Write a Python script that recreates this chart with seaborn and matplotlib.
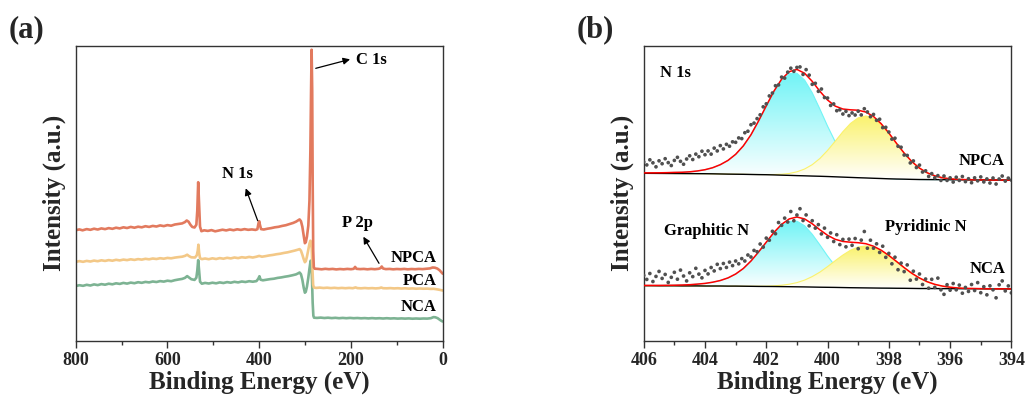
import numpy as np
import pandas as pd
import matplotlib
matplotlib.use("Agg")
import matplotlib.pyplot as plt
import matplotlib.colors as mcolors
import seaborn as sns

# ---------------- (a) survey spectra: (binding energy eV, intensity a.u.) ----------------
npca_survey = [
    (800, 110.5), (792, 111.3), (785, 110.4), (776, 111.6), (768, 110.9), (760, 112.0), (752, 111.2),
    (744, 112.3), (736, 111.6), (728, 112.6), (720, 111.9), (712, 113.0), (704, 112.3), (696, 113.4),
    (688, 112.7), (680, 113.8), (672, 113.0), (664, 114.0), (656, 113.4), (648, 114.5), (640, 113.8),
    (632, 114.8), (624, 114.2), (616, 115.3), (608, 114.6), (600, 115.6), (592, 115.0), (584, 116.2),
    (576, 116.8), (568, 117.3), (562, 118.6), (558, 120.2), (554, 119.0), (550, 116.0), (546, 113.8),
    (541, 113.2), (537, 116.0), (535, 130.0), (533, 158.5), (531, 135.0), (529, 114.0), (526, 109.5),
    (520, 110.4), (512, 109.8), (504, 110.6), (496, 109.4), (488, 110.2), (480, 111.0), (472, 110.3),
    (464, 111.2), (456, 110.5), (448, 111.4), (440, 110.8), (432, 111.6), (424, 110.9), (416, 111.3),
    (408, 110.8), (404, 111.5), (401.5, 117.5), (400, 119.5), (398.5, 116.0), (396, 111.6), (390, 111.2),
    (382, 112.0), (374, 112.6), (366, 113.4), (358, 113.9), (350, 114.8), (342, 115.5), (334, 116.6),
    (326, 117.8), (320, 119.0), (315, 120.4), (312, 121.3), (309, 119.5), (306, 114.0), (303, 105.0),
    (300.5, 97.5), (298.5, 98.5), (296, 104.0), (293, 115.0), (290.5, 140.0), (288.5, 190.0),
    (287, 250.0), (285.8, 291.0), (284.5, 250.0), (283.5, 160.0), (282.3, 90.0), (281, 73.5),
    (279, 72.0), (272, 71.8), (264, 71.4), (256, 71.9), (248, 71.5), (240, 71.8), (232, 71.3),
    (224, 71.7), (216, 71.4), (208, 71.8), (200, 71.5), (194, 71.9), (191, 73.8), (188, 71.9),
    (180, 71.6), (172, 71.8), (164, 71.4), (156, 71.8), (148, 71.5), (140, 71.9), (136, 72.5),
    (133, 74.2), (130, 72.2), (124, 71.6), (116, 71.8), (108, 71.4), (100, 71.7), (92, 71.5),
    (84, 71.8), (76, 71.4), (68, 71.7), (60, 71.5), (52, 71.8), (44, 71.6), (36, 72.0), (28, 72.3),
    (22, 73.2), (17, 73.0), (12, 72.2), (7, 70.5), (3, 68.5), (0, 67.0),
]
pca_survey = [
    (800, 78.8), (792, 79.6), (784, 78.9), (776, 79.8), (768, 79.2), (760, 80.1), (752, 79.5),
    (744, 80.4), (736, 79.8), (728, 80.6), (720, 80.0), (712, 80.9), (704, 80.3), (696, 81.1),
    (688, 80.6), (680, 81.4), (672, 80.8), (664, 81.6), (656, 81.1), (648, 81.9), (640, 81.4),
    (632, 82.2), (624, 81.7), (616, 82.5), (608, 82.0), (600, 82.8), (592, 82.4), (584, 83.1),
    (576, 83.6), (568, 84.0), (562, 84.8), (557, 86.0), (553, 84.6), (548, 83.4), (540, 83.2),
    (536, 85.5), (534, 90.0), (532.5, 96.0), (531, 88.0), (529, 82.5), (525, 81.6), (518, 82.2),
    (510, 81.5), (502, 82.4), (494, 81.7), (486, 82.6), (478, 82.0), (470, 82.9), (462, 82.3),
    (454, 83.2), (446, 82.6), (438, 83.5), (430, 83.0), (422, 83.8), (414, 83.2), (406, 84.0),
    (400, 84.8), (394, 84.0), (386, 84.6), (378, 85.3), (370, 85.8), (362, 86.5), (354, 87.0),
    (346, 87.8), (338, 88.4), (330, 89.3), (322, 90.2), (316, 91.0), (312, 91.6), (309, 90.0),
    (306, 86.0), (303, 81.5), (300.5, 78.5), (298.5, 79.5), (296, 84.0), (293, 91.0), (290.5, 97.0),
    (288.5, 100.0), (287, 99.0), (285.5, 92.0), (284, 72.0), (282.5, 56.0), (281, 53.2), (276, 52.8),
    (268, 53.1), (260, 52.7), (252, 53.0), (244, 52.6), (236, 52.9), (228, 52.5), (220, 52.8),
    (212, 52.5), (204, 52.8), (196, 52.5), (190, 53.3), (186, 52.6), (178, 52.4), (170, 52.7),
    (162, 52.4), (154, 52.6), (146, 52.3), (138, 52.6), (134, 53.2), (130, 52.5), (122, 52.4),
    (114, 52.6), (106, 52.3), (98, 52.5), (90, 52.2), (82, 52.4), (74, 52.1), (66, 52.3), (58, 52.0),
    (50, 52.2), (42, 52.0), (34, 52.1), (26, 51.8), (20, 51.9), (14, 51.5), (8, 51.0), (4, 50.6),
    (0, 50.2),
]
nca_survey = [
    (800, 54.7), (792, 55.5), (784, 54.9), (776, 55.9), (768, 55.2), (760, 56.3), (752, 55.6),
    (744, 56.6), (736, 56.0), (728, 57.0), (720, 56.4), (712, 57.4), (704, 56.8), (696, 57.8),
    (688, 57.1), (680, 58.1), (672, 57.5), (664, 58.5), (656, 57.9), (648, 58.8), (640, 58.3),
    (632, 59.2), (624, 58.7), (616, 59.6), (608, 59.1), (600, 60.0), (592, 59.5), (584, 60.5),
    (576, 61.2), (568, 61.8), (562, 62.8), (557, 64.6), (553, 63.2), (548, 61.5), (541, 60.8),
    (537, 63.0), (535, 70.0), (533, 80.5), (531, 70.0), (529, 59.0), (525, 57.0), (518, 57.8),
    (510, 57.2), (502, 58.0), (494, 57.4), (486, 58.3), (478, 57.7), (470, 58.6), (462, 58.0),
    (454, 58.9), (446, 58.3), (438, 59.2), (430, 58.7), (422, 59.5), (414, 59.0), (406, 59.6),
    (402, 62.0), (399.5, 64.5), (397, 61.0), (392, 60.4), (384, 61.0), (376, 61.6), (368, 62.0),
    (360, 62.8), (352, 63.3), (344, 64.0), (336, 64.6), (328, 65.4), (320, 66.3), (315, 67.4),
    (312, 68.2), (309, 66.5), (306, 61.0), (303, 53.0), (300.5, 48.0), (298.5, 49.0), (296, 54.0),
    (293, 63.0), (290.5, 72.0), (288, 80.0), (286.5, 78.0), (285, 62.0), (283.5, 38.0), (282, 25.0),
    (280.5, 23.0), (274, 22.8), (266, 23.1), (258, 22.7), (250, 23.0), (242, 22.6), (234, 22.9),
    (226, 22.5), (218, 22.8), (210, 22.5), (202, 22.8), (194, 22.5), (186, 22.7), (178, 22.4),
    (170, 22.6), (162, 22.3), (154, 22.6), (146, 22.3), (138, 22.5), (130, 22.2), (122, 22.5),
    (114, 22.2), (106, 22.4), (98, 22.1), (90, 22.3), (82, 22.1), (74, 22.3), (66, 22.0), (58, 22.2),
    (50, 22.0), (42, 22.2), (34, 22.1), (26, 22.5), (20, 23.6), (16, 23.4), (11, 22.5), (6, 20.8),
    (2, 19.6), (0, 19.2),
]
survey_colors = {"NCA": "#7DB393", "PCA": "#F3C887", "NPCA": "#E27A5E"}

# ---------------- (b) N 1s high resolution ----------------
be_fit = np.linspace(406, 394, 49)    # fit grid, 0.25 eV step
be_pts = np.linspace(406, 394, 121)   # measured points, 0.1 eV step

# NPCA: background and fitted components (heights above background)
npca_bg = [167.4, 167.35, 167.3, 167.25, 167.2, 167.15, 167.1, 167.05, 167.0,
           166.9, 166.75, 166.6, 166.5, 166.4, 166.25, 166.1, 166.0,
           165.8, 165.55, 165.35, 165.1, 164.9, 164.65, 164.45, 164.2,
           163.9, 163.6, 163.3, 163.0, 162.75, 162.45, 162.2, 161.9,
           161.7, 161.55, 161.35, 161.2,
           161.15, 161.1, 161.05, 161.0, 160.95, 160.9, 160.85, 160.8, 160.75, 160.7, 160.65, 160.6]
npca_graphitic = [0.4, 0.5, 0.6, 0.8, 1.1, 1.3, 1.8, 2.7, 4.0, 6.1, 9.3, 13.7, 19.9, 28.4, 39.7,
                  53.7, 68.7, 83.4, 95.1, 101.8, 102.4, 95.8, 83.3, 67.2, 50.4, 35.1, 22.7, 13.6,
                  7.6, 3.9, 1.9, 0.8, 0.4, 0.1, 0, 0, 0, 0, 0, 0, 0, 0, 0, 0, 0, 0, 0, 0, 0]
npca_pyridinic = [0, 0, 0, 0, 0, 0, 0, 0, 0, 0, 0, 0, 0, 0, 0,
                  0.1, 0.2, 0.4, 0.9, 1.9, 3.8, 6.8, 11.4, 17.8, 26.1, 35.6, 45.4, 54.0, 59.9,
                  62.0, 59.9, 54.0, 45.4, 35.6, 26.1, 17.8, 11.4, 6.8, 3.8, 1.9, 0.9, 0.4, 0.2,
                  0.1, 0, 0, 0, 0, 0]
npca_envelope = [0.4, 0.5, 0.6, 0.8, 1.1, 1.3, 1.8, 2.7, 4.0, 6.1, 9.3, 13.7, 19.9, 28.4, 39.7,
                 53.8, 68.9, 83.8, 96.0, 103.7, 106.2, 102.6, 94.7, 85.0, 76.5, 70.7, 68.1, 67.6,
                 67.5, 65.9, 61.8, 54.8, 45.8, 35.7, 26.1, 17.8, 11.4, 6.8, 3.8, 1.9, 0.9, 0.4,
                 0.2, 0.1, 0, 0, 0, 0, 0]
npca_points = [178.8, 175.8, 180.9, 177.9, 173.9, 179.9, 177.0, 182.0, 178.1, 175.2,
               180.3, 183.4, 179.4, 176.5, 181.7, 184.9, 181.2, 186.6, 184.0, 189.5,
               186.0, 189.8, 186.6, 192.6, 189.8, 195.1, 191.8, 196.4, 194.5, 198.9,
               198.4, 202.8, 202.1, 208.0, 209.5, 216.0, 217.6, 222.1, 225.9, 233.9,
               236.9, 244.8, 247.7, 255.0, 255.8, 263.6, 262.6, 268.6, 272.5, 269.4,
               273.3, 273.8, 266.3, 271.1, 265.6, 256.4, 257.4, 249.4, 251.7, 243.2,
               242.7, 235.3, 236.8, 230.0, 230.9, 226.7, 229.4, 225.1, 227.8, 225.7,
               229.5, 225.8, 232.0, 228.8, 224.0, 226.3, 220.4, 221.5, 213.1, 213.4,
               208.7, 201.6, 202.5, 194.5, 193.5, 185.7, 185.3, 177.8, 179.8, 173.2,
               175.6, 168.7, 169.9, 164.3, 167.1, 162.9, 165.1, 160.3, 164.7, 160.3,
               162.9, 158.7, 163.5, 160.3, 164.2, 159.1, 162.0, 158.0, 162.9, 159.9,
               163.8, 158.8, 161.8, 157.7, 162.7, 156.7, 161.7, 164.7, 159.6, 162.6,
               160.6]

# NCA
nca_bg = [55.0, 55.0, 54.9, 54.9, 54.9, 54.8, 54.8, 54.8, 54.7, 54.7, 54.7, 54.6, 54.6,
          54.5, 54.4, 54.3, 54.25, 54.2, 54.1, 54.0, 53.9,
          53.8, 53.65, 53.5, 53.4, 53.3, 53.15, 53.0, 52.9,
          52.8, 52.7, 52.6, 52.55, 52.45, 52.4, 52.3, 52.2,
          52.2, 52.15, 52.1, 52.1, 52.05, 52.0, 52.0, 51.95, 51.9, 51.9, 51.85, 51.8]
nca_graphitic = [0.3, 0.3, 0.4, 0.5, 0.6, 0.9, 1.2, 1.8, 2.6, 3.8, 5.5, 8.2, 12.1, 17.7, 25.2,
                 34.3, 44.0, 53.4, 60.9, 65.3, 65.6, 61.2, 52.8, 42.3, 31.3, 21.4, 13.6, 8.0,
                 4.3, 2.2, 1.0, 0.4, 0.2, 0.1, 0, 0, 0, 0, 0, 0, 0, 0, 0, 0, 0, 0, 0, 0, 0]
nca_pyridinic = [0, 0, 0, 0, 0, 0, 0, 0, 0, 0, 0, 0, 0, 0,
                 0.1, 0.2, 0.3, 0.7, 1.4, 2.5, 4.2, 6.8, 10.5, 15.1, 20.7, 26.7, 32.5, 37.5,
                 40.8, 42.0, 40.8, 37.5, 32.5, 26.7, 20.7, 15.1, 10.5, 6.8, 4.2, 2.5, 1.4, 0.7,
                 0.3, 0.2, 0.1, 0, 0, 0, 0]
nca_envelope = [0.3, 0.3, 0.4, 0.5, 0.6, 0.9, 1.2, 1.8, 2.6, 3.8, 5.5, 8.2, 12.1, 17.7,
                25.3, 34.5, 44.3, 54.1, 62.3, 67.8, 69.8, 68.0, 63.3, 57.4, 52.0, 48.1, 46.1,
                45.5, 45.1, 44.2, 41.8, 37.9, 32.7, 26.8, 20.7, 15.1, 10.5, 6.8, 4.2, 2.5,
                1.4, 0.7, 0.3, 0.2, 0.1, 0, 0, 0, 0]
nca_points = [65.3, 61.3, 67.2, 59.2, 64.3, 69.3, 62.3, 66.3, 58.3, 63.4,
              68.4, 61.5, 70.6, 64.7, 59.8, 67.9, 64.1, 72.4, 66.6, 62.9,
              70.3, 66.8, 73.2, 69.8, 76.4, 72.1, 77.2, 73.3, 78.6, 75.1,
              79.7, 76.9, 82.1, 79.7, 85.7, 83.7, 90.3, 89.0, 96.7, 93.6,
              102.6, 100.5, 109.4, 107.0, 118.2, 115.4, 122.6, 118.7, 129.2, 120.0,
              125.7, 132.0, 120.2, 125.8, 114.9, 120.0, 112.6, 116.1, 106.8, 112.6,
              103.4, 107.8, 99.2, 106.0, 96.1, 101.3, 93.9, 101.6, 95.4, 102.2,
              92.0, 100.6, 109.2, 92.5, 100.5, 92.5, 96.9, 88.3, 94.5, 83.4,
              87.3, 76.9, 83.5, 71.0, 77.6, 69.1, 75.8, 60.5, 69.5, 61.6,
              66.7, 56.2, 61.7, 52.5, 61.4, 53.3, 62.6, 50.9, 46.4, 56.0,
              50.5, 57.2, 50.9, 55.6, 47.5, 53.3, 49.3, 56.2, 50.2, 58.1,
              48.0, 54.0, 45.9, 54.9, 50.9, 42.9, 55.9, 59.8, 49.8, 54.8,
              47.8]

CYAN = "#72F4F6"
YELLOW = "#FAF26C"

sns.set_theme(style="ticks")
plt.rcParams["font.family"] = ["Liberation Serif", "DejaVu Serif"]
plt.rcParams["font.weight"] = "bold"
plt.rcParams["axes.labelweight"] = "bold"

fig = plt.figure(figsize=(10.27, 3.99), dpi=100)
ax1 = fig.add_axes([0.0737, 0.1461, 0.3574, 0.7393])
ax2 = fig.add_axes([0.6268, 0.1461, 0.3580, 0.7393])

# ---------- (a) ----------
frames = []
for name, pts in [("NCA", nca_survey), ("PCA", pca_survey), ("NPCA", npca_survey)]:
    ev, inten = zip(*pts)
    frames.append(pd.DataFrame({"energy": ev, "intensity": inten, "sample": name}))
survey = pd.concat(frames, ignore_index=True)
sns.lineplot(data=survey, x="energy", y="intensity", hue="sample",
             hue_order=["NCA", "PCA", "NPCA"], palette=survey_colors,
             estimator=None, lw=1.9, legend=False, ax=ax1)

txt = dict(fontsize=12, fontweight="bold", color="black")
arrow = dict(arrowstyle="-|>", color="black", lw=0.9, mutation_scale=10, shrinkA=0, shrinkB=0)
ax1.text(189, 280.7, "C 1s", ha="left", va="center", **txt)
ax1.annotate("", xy=(202, 281.4), xytext=(276.8, 272.4), arrowprops=arrow)
ax1.text(447.3, 166.4, "N 1s", ha="center", va="center", **txt)
ax1.annotate("", xy=(429.4, 152.4), xytext=(403.3, 120.0), arrowprops=arrow)
ax1.text(186.4, 118.0, "P 2p", ha="center", va="center", **txt)
ax1.annotate("", xy=(173, 104.0), xytext=(138.9, 77.4), arrowprops=arrow)
ax1.text(13, 83.0, "NPCA", ha="right", va="center", **txt)
ax1.text(14, 59.7, "PCA", ha="right", va="center", **txt)
ax1.text(14, 34.0, "NCA", ha="right", va="center", **txt)

ax1.set_xlim(800, 0)
ax1.set_ylim(0, 295)
ax1.set_xticks([800, 600, 400, 200, 0])
ax1.set_xticks([700, 500, 300, 100], minor=True)


# ---------- (b) ----------
def gradient_fill(ax, x, lower, upper, color, z):
    poly = ax.fill_between(x, lower, upper, facecolor="none", edgecolor="none")
    rgb = np.array(mcolors.to_rgb(color))
    t = np.linspace(0, 1, 256)[:, None, None]
    img = (1 - t) * np.ones(3) + t * rgb
    im = ax.imshow(img, extent=[x.min(), x.max(), lower.min(), upper.max()],
                   origin="lower", aspect="auto", interpolation="bilinear", zorder=z)
    im.set_clip_path(poly.get_paths()[0], transform=ax.transData)


for bg, gra, pyr, env, pts in [
    (npca_bg, npca_graphitic, npca_pyridinic, npca_envelope, npca_points),
    (nca_bg, nca_graphitic, nca_pyridinic, nca_envelope, nca_points),
]:
    bg = np.array(bg)
    gra_y = bg + np.array(gra)
    pyr_y = bg + np.array(pyr)
    gradient_fill(ax2, be_fit, bg, gra_y, CYAN, 1)
    ax2.plot(be_fit, gra_y, color=CYAN, lw=0.8, zorder=2)
    gradient_fill(ax2, be_fit, bg, pyr_y, YELLOW, 3)
    ax2.plot(be_fit, pyr_y, color=YELLOW, lw=0.8, zorder=4)
    sns.lineplot(x=be_fit, y=bg, color="black", lw=1.0, zorder=4.5, ax=ax2)
    sns.lineplot(x=be_fit, y=bg + np.array(env), color="#FF0000", lw=1.1, zorder=5, ax=ax2)
    sns.scatterplot(x=be_pts, y=pts, s=7, color="#505050", edgecolor="none",
                    linewidth=0, zorder=6, ax=ax2)

ax2.text(405.47, 268.2, "N 1s", ha="left", va="center", **txt)
ax2.text(403.94, 109.7, "Graphitic N", ha="center", va="center", **txt)
ax2.text(396.79, 113.7, "Pyridinic N", ha="center", va="center", **txt)
ax2.text(394.23, 179.7, "NPCA", ha="right", va="center", **txt)
ax2.text(394.2, 71.7, "NCA", ha="right", va="center", **txt)

ax2.set_xlim(406, 394)
ax2.set_ylim(0, 295)
ax2.set_xticks([406, 404, 402, 400, 398, 396, 394])
ax2.set_xticks([405, 403, 401, 399, 397, 395], minor=True)

for ax in (ax1, ax2):
    ax.set_yticks([])
    ax.set_xlabel("Binding Energy (eV)", fontsize=18, fontweight="bold", labelpad=1)
    ax.set_ylabel("Intensity (a.u.)", fontsize=18, fontweight="bold", labelpad=7)
    ax.tick_params(axis="x", which="major", direction="out", length=5, width=1,
                   labelsize=13, pad=3, color="#333333")
    ax.tick_params(axis="x", which="minor", direction="out", length=3, width=1, color="#333333")
    for lab in ax.get_xticklabels():
        lab.set_fontweight("bold")
    for sp in ax.spines.values():
        sp.set_visible(True)
        sp.set_color("#333333")
        sp.set_linewidth(1.0)

fig.text(0.008, 0.925, "(a)", fontsize=22, fontweight="bold", ha="left", va="center")
fig.text(0.5615, 0.925, "(b)", fontsize=22, fontweight="bold", ha="left", va="center")

fig.savefig("out.png", dpi=100)
